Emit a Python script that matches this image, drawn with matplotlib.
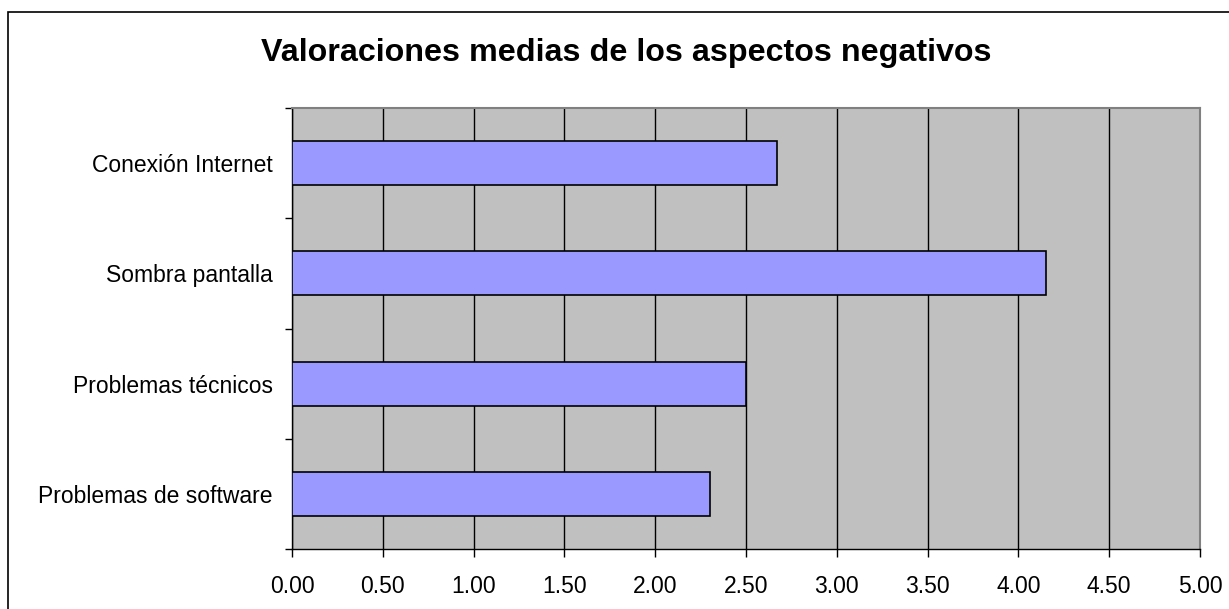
import matplotlib
matplotlib.use("Agg")
import matplotlib.pyplot as plt
from matplotlib.patches import Rectangle
import numpy as np

categories = ["Conexión Internet", "Sombra pantalla", "Problemas técnicos", "Problemas de software"]
values = [2.67, 4.15, 2.50, 2.30]
xticks = [0.0, 0.5, 1.0, 1.5, 2.0, 2.5, 3.0, 3.5, 4.0, 4.5, 5.0]
title = "Valoraciones medias de los aspectos negativos"

plt.rcParams["font.family"] = ["Liberation Sans", "DejaVu Sans"]

fig = plt.figure(figsize=(12.29, 6.09), dpi=100)
fig.patch.set_facecolor("white")

# outer chart frame
fig.patches.append(Rectangle((8 / 1229, -0.05), 1.2, 1 - 12 / 609 + 0.05,
                             transform=fig.transFigure, fill=False,
                             edgecolor="black", linewidth=1.2, zorder=0))

ax = fig.add_axes([292 / 1229, 1 - 549 / 609, 908 / 1229, 441 / 609])
ax.set_facecolor("#C0C0C0")

n = len(categories)
ypos = np.arange(n)[::-1]
ax.barh(ypos, values, height=0.4, color="#9999FF", edgecolor="black",
        linewidth=1.2, zorder=3)

ax.set_xlim(0, 5)
ax.set_ylim(-0.5, n - 0.5)
ax.set_xticks(xticks)
ax.set_xticklabels([f"{v:.2f}" for v in xticks], fontsize=16.5)
ax.set_yticks(ypos)
ax.set_yticklabels(categories, fontsize=16.5)
ax.set_yticks(np.arange(n + 1) - 0.5, minor=True)

ax.tick_params(axis="y", which="major", length=0, pad=14)
ax.tick_params(axis="y", which="minor", length=5, width=1, color="black", direction="out")
ax.tick_params(axis="x", which="major", length=5.5, width=1, color="black",
               direction="out", pad=13.5)

ax.grid(axis="x", color="black", linewidth=1, zorder=1)
ax.set_axisbelow(True)

for side in ("top", "right"):
    ax.spines[side].set_color("#808080")
    ax.spines[side].set_linewidth(1.5)
for side in ("left", "bottom"):
    ax.spines[side].set_color("black")
    ax.spines[side].set_linewidth(1)

fig.text(626 / 1229, 1 - 53 / 609, title, ha="center", va="center",
         fontsize=23.2, fontweight="bold")

fig.savefig("out.png", dpi=100)
